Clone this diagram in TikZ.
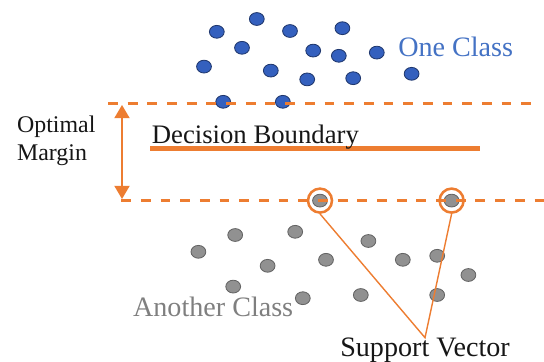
\documentclass[tikz,border=0pt]{standalone}
\usepackage{fontspec}
\setmainfont{Liberation Serif}
\newfontfamily\svserif{Liberation Serif}
\usepackage{xcolor}
\definecolor{svorange}{RGB}{237,125,49}
\definecolor{svblue}{RGB}{52,96,190}
\definecolor{svnavy}{RGB}{32,56,110}
\definecolor{svtextblue}{RGB}{68,114,196}
\definecolor{svgray}{RGB}{145,145,145}
\definecolor{svdarkgray}{RGB}{100,100,100}
\definecolor{svtextgray}{RGB}{127,127,127}
\definecolor{svink}{RGB}{22,22,22}
\usetikzlibrary{arrows.meta,positioning,shapes.geometric}
\tikzset{
  bdot/.style={ellipse, draw=svnavy, fill=svblue, line width=0.6pt,
               minimum width=0.37cm, minimum height=0.32cm, inner sep=0pt},
  gdot/.style={ellipse, draw=svdarkgray, fill=svgray, line width=0.6pt,
               minimum width=0.37cm, minimum height=0.32cm, inner sep=0pt},
  svring/.style={circle, draw=svorange, line width=1.8pt,
                 minimum size=0.6cm, inner sep=0pt},
  mline/.style={svorange, line width=2.1pt, dash pattern=on 7pt off 7pt},
  lbl/.style={font=\svserif\fontsize{#1}{20}\selectfont, text=svink, inner sep=0pt},
  lbl/.default=20,
}

\begin{document}
\begin{tikzpicture}
\useasboundingbox (0,0) rectangle (13.6,9.025);

% --- One class (blue) ---
\node[bdot] (b1) at (5.42,8.23) {};
\node[bdot] (b2) at (6.42,8.55) {};
\node[bdot] (b3) at (7.25,8.25) {};
\node[bdot] (b4) at (8.56,8.32) {};
\node[bdot] (b5) at (6.05,7.83) {};
\node[bdot] (b6) at (7.83,7.76) {};
\node[bdot] (b7) at (8.47,7.63) {};
\node[bdot] (b8) at (9.42,7.71) {};
\node[bdot] (b9) at (5.10,7.36) {};
\node[bdot] (b10) at (6.77,7.26) {};
\node[bdot] (b11) at (7.68,7.04) {};
\node[bdot] (b12) at (8.83,7.07) {};
\node[bdot] (b13) at (10.29,7.18) {};
\node[bdot] (b14) at (5.58,6.48) {};
\node[bdot] (b15) at (7.07,6.48) {};
\node[lbl, text=svtextblue, anchor=west] (oneclass) at (9.95,7.86) {One Class};

% --- Another class (gray) ---
\node[gdot] (sv1) at (8.00,4.01) {};
\node[gdot] (sv2) at (11.29,4.01) {};
\node[gdot] (g1) at (5.88,3.15) {};
\node[gdot] (g2) at (7.38,3.23) {};
\node[gdot] (g3) at (9.21,3.00) {};
\node[gdot] (g4) at (4.96,2.73) {};
\node[gdot] (g5) at (6.69,2.38) {};
\node[gdot] (g6) at (8.15,2.53) {};
\node[gdot] (g7) at (10.07,2.53) {};
\node[gdot] (g8) at (10.93,2.63) {};
\node[gdot] (g9) at (11.71,2.15) {};
\node[gdot] (g10) at (5.83,1.86) {};
\node[gdot] (g11) at (7.57,1.57) {};
\node[gdot] (g12) at (9.02,1.65) {};
\node[gdot] (g13) at (10.93,1.65) {};
\node[lbl, text=svtextgray, anchor=base west] (anotherclass) at (3.32,1.11) {Another Class};

% --- Margin lines ---
\coordinate (upL) at (2.70,6.44);
\coordinate (upR) at (13.40,6.44);
\coordinate (loL) at (3.03,4.01);
\coordinate (loR) at (13.60,4.01);
\draw[mline] (upL) -- (upR);
\draw[mline] (loL) -- (loR);

% Margin arrow
\coordinate (mtop) at (3.05,6.40);
\coordinate (mbot) at (3.05,4.05);
\draw[svorange, line width=1pt,
      {Triangle[width=0.38cm,length=0.33cm]}-{Triangle[width=0.38cm,length=0.33cm]}]
      (mtop) -- (mbot);
\node[lbl=17, align=left, anchor=west] (optmargin) at (0.42,5.50) {Optimal\\Margin};

% --- Decision boundary ---
\coordinate (dbL) at (3.75,5.32);
\coordinate (dbR) at (12.00,5.32);
\draw[svorange, line width=3.5pt] (dbL) -- (dbR);
\node[lbl=19, anchor=base west] (boundary) at (3.79,5.44) {Decision Boundary};

% --- Support vectors ---
\node[svring] (svr1) at (sv1) {};
\node[svring] (svr2) at (sv2) {};
\node[lbl, anchor=base west] (support) at (8.50,0.11) {Support Vector};
\draw[svorange, line width=1pt] (svr1.south) -- (support.north) -- (svr2.south);

\end{tikzpicture}
\end{document}
